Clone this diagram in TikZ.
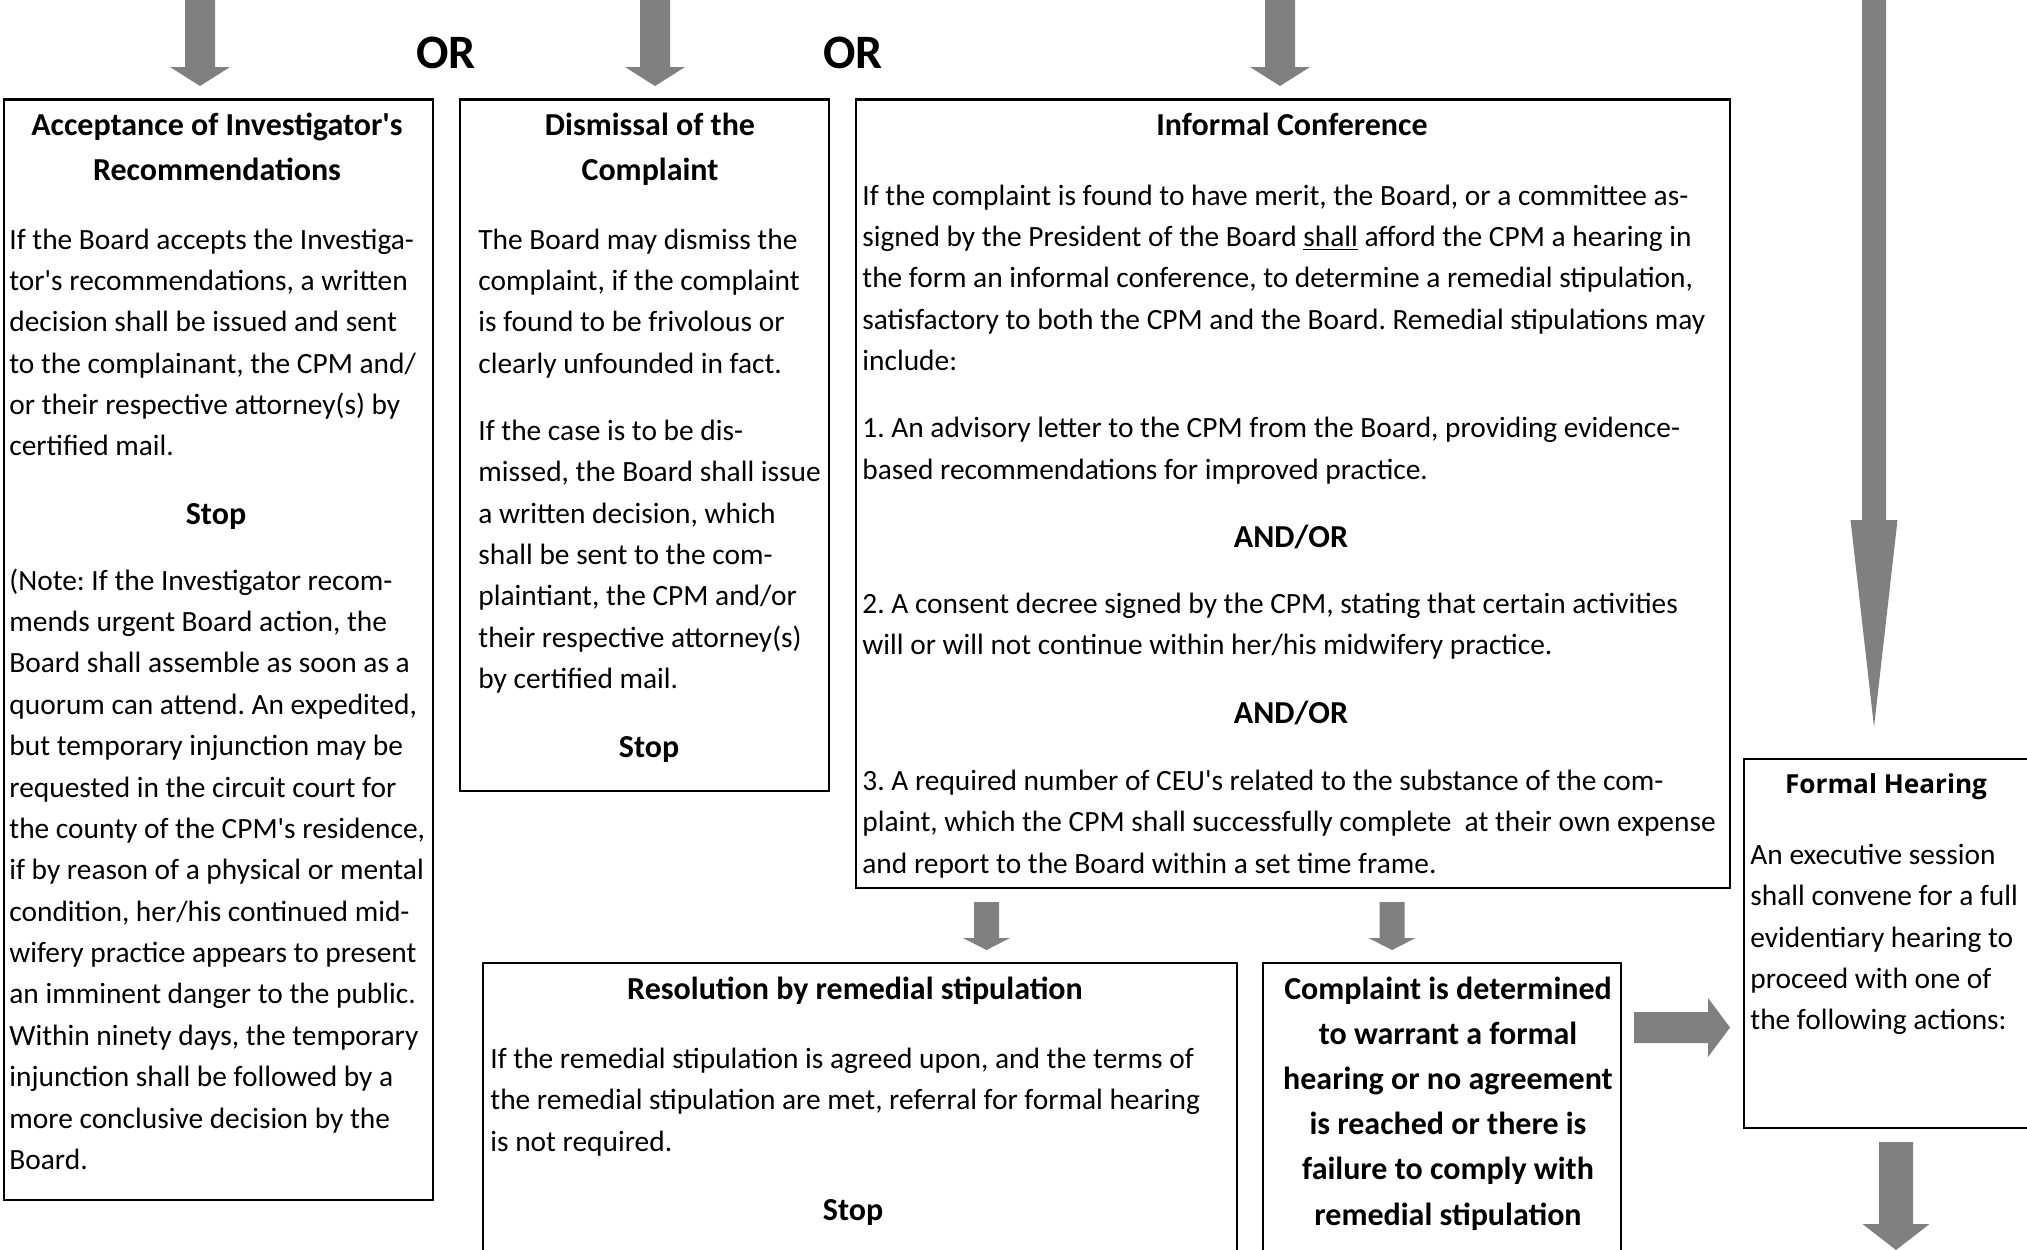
\documentclass[tikz,border=0pt]{standalone}
\usepackage{fontspec}
\setmainfont{Carlito}[Ligatures=TeXOff]
\newfontfamily\osfont{Open Sans}[Ligatures=TeXOff]
\usetikzlibrary{fit}
\definecolor{arrowgray}{RGB}{128,128,128}
\newcommand\bodyfnt{\fontsize{14.7}{20.685}\selectfont}
\newcommand\ttlfnt{\fontsize{16}{22.62}\selectfont\bfseries}
\newcommand\lns[1]{\begin{tabular}[t]{@{}l@{}}#1\end{tabular}}
\newcommand\clns[1]{\begin{tabular}[t]{@{}c@{}}#1\end{tabular}}
% vertical block arrow: cx, ytop, ybase, ytip, shaft half width, head half width
\newcommand\varrow[6]{%
  \fill[arrowgray] ({#1-#5},#2) -- ({#1+#5},#2) -- ({#1+#5},#3) -- ({#1+#6},#3)
    -- (#1,#4) -- ({#1-#6},#3) -- ({#1-#5},#3) -- cycle;}
% horizontal block arrow: cy, xleft, xbase, xtip, shaft half height, head half height
\newcommand\harrow[6]{%
  \fill[arrowgray] (#2,{#1-#5}) -- (#3,{#1-#5}) -- (#3,{#1-#6}) -- (#4,#1)
    -- (#3,{#1+#6}) -- (#3,{#1+#5}) -- (#2,{#1+#5}) -- cycle;}
\tikzset{
  box/.style={draw, line width=1.4pt, inner sep=0pt},
  txt/.style={anchor=base west, inner sep=0pt, font=\bodyfnt},
  ttl/.style={anchor=base, inner sep=0pt, font=\ttlfnt},
  orlbl/.style={anchor=base, inner sep=0pt, font=\fontsize{24}{28}\selectfont\bfseries},
}
\frenchspacing
\begin{document}
\begin{tikzpicture}[x=0.5pt, y=-0.5pt]
\useasboundingbox (0,0) rectangle (2027,1249);
\clip (0,0) rectangle (2027,1249);
\fill[white] (0,0) rectangle (2027,1249);

% boxes
\node[box, fit={(4,99.5) (433,1200)}] (b1) {};
\node[box, fit={(460,99.5) (829,791)}] (b2) {};
\node[box, fit={(856,99.5) (1730,888)}] (b3) {};
\node[box, fit={(483,963) (1237,1270)}] (b4) {};
\node[box, fit={(1263,963) (1621,1270)}] (b5) {};
\node[box, fit={(1744,759) (2050,1128)}] (b6) {};

% arrows
\varrow{200}{-5}{67}{86}{15}{30}
\varrow{655}{-5}{67}{86}{15}{30}
\varrow{1280}{-5}{67}{86}{15}{30}
\varrow{1874}{-5}{520}{727}{12}{23.5}
\varrow{986.5}{902}{938}{950}{12.5}{23.5}
\varrow{1392}{902}{938}{950}{12.5}{23.5}
\harrow{1027.5}{1634}{1708}{1730}{15.5}{29.5}
\varrow{1896}{1142}{1224}{1250}{17}{33.5}

% OR labels
\node[orlbl] (or1) at (446,68.5) {OR};
\node[orlbl] (or2) at (853,68.5) {OR};

% box 1
\node[ttl] (t1) at (217,135.4) {\clns{Acceptance of Investigator's\\Recommendations}};
\node[txt] (p1a) at (9,249) {\lns{If the Board accepts the Investiga-\\tor's recommendations, a written\\decision shall be issued and sent\\to the complainant, the CPM and/\\or their respective attorney(s) by\\certified mail.}};
\node[ttl] (s1) at (216,524.5) {Stop};
\node[txt] (p1b) at (9,590.2) {\lns{(Note: If the Investigator recom-\\mends urgent Board action, the\\Board shall assemble as soon as a\\quorum can attend. An expedited,\\but temporary injunction may be\\requested in the circuit court for\\the county of the CPM's residence,\\if by reason of a physical or mental\\condition, her/his continued mid-\\wifery practice appears to present\\an imminent danger to the public.\\Within ninety days, the temporary\\injunction shall be followed by a\\more conclusive decision by the\\Board.}};

% box 2
\node[ttl] (t2) at (650,135.4) {\clns{Dismissal of the\\Complaint}};
\node[txt] (p2a) at (478,249) {\lns{The Board may dismiss the\\complaint, if the complaint\\is found to be frivolous or\\clearly unfounded in fact.}};
\node[txt] (p2b) at (478,440.3) {\lns{If the case is to be dis-\\missed, the Board shall issue\\a written decision, which\\shall be sent to the com-\\plaintiant, the CPM and/or\\their respective attorney(s)\\by certified mail.}};
\node[ttl] (s2) at (649,757.2) {Stop};

% box 3
\node[ttl] (t3) at (1292,135.4) {Informal Conference};
\node[txt] (p3a) at (862,205) {\lns{If the complaint is found to have merit, the Board, or a committee as-\\signed by the President of the Board \underline{shall} afford the CPM a hearing in\\the form an informal conference, to determine a remedial stipulation,\\satisfactory to both the CPM and the Board. Remedial stipulations may\\include:}};
\node[txt] (p3b) at (862,437.7) {\lns{1. An advisory letter to the CPM from the Board, providing evidence-\\based recommendations for improved practice.}};
\node[ttl] (ao1) at (1291,547.8) {AND/OR};
\node[txt] (p3c) at (862,613.5) {\lns{2. A consent decree signed by the CPM, stating that certain activities\\will or will not continue within her/his midwifery practice.}};
\node[ttl] (ao2) at (1291,723.6) {AND/OR};
\node[txt] (p3d) at (862,790.6) {\lns{3. A required number of CEU's related to the substance of the com-\\plaint, which the CPM shall successfully complete\ \ at their own expense\\and report to the Board within a set time frame.}};

% box 4
\node[ttl] (t4) at (855,999) {Resolution by remedial stipulation};
\node[txt] (p4) at (490,1068.5) {\lns{If the remedial stipulation is agreed upon, and the terms of\\the remedial stipulation are met, referral for formal hearing\\is not required.}};
\node[ttl] (s4) at (853,1220) {Stop};

% box 5
\node[ttl] (t5) at (1448,999) {\clns{Complaint is determined\\to warrant a formal\\hearing or no agreement\\is reached or there is\\failure to comply with\\remedial stipulation}};

% box 6
\node[anchor=base, inner sep=0pt, font={\osfont\bfseries\fontsize{13}{16}\selectfont}] (t6) at (1886,793) {\resizebox{101pt}{!}{Formal Hearing}};
\node[txt] (p6) at (1750,864.3) {\lns{An executive session\\shall convene for a full\\evidentiary hearing to\\proceed with one of\\the following actions:}};
\end{tikzpicture}
\end{document}
